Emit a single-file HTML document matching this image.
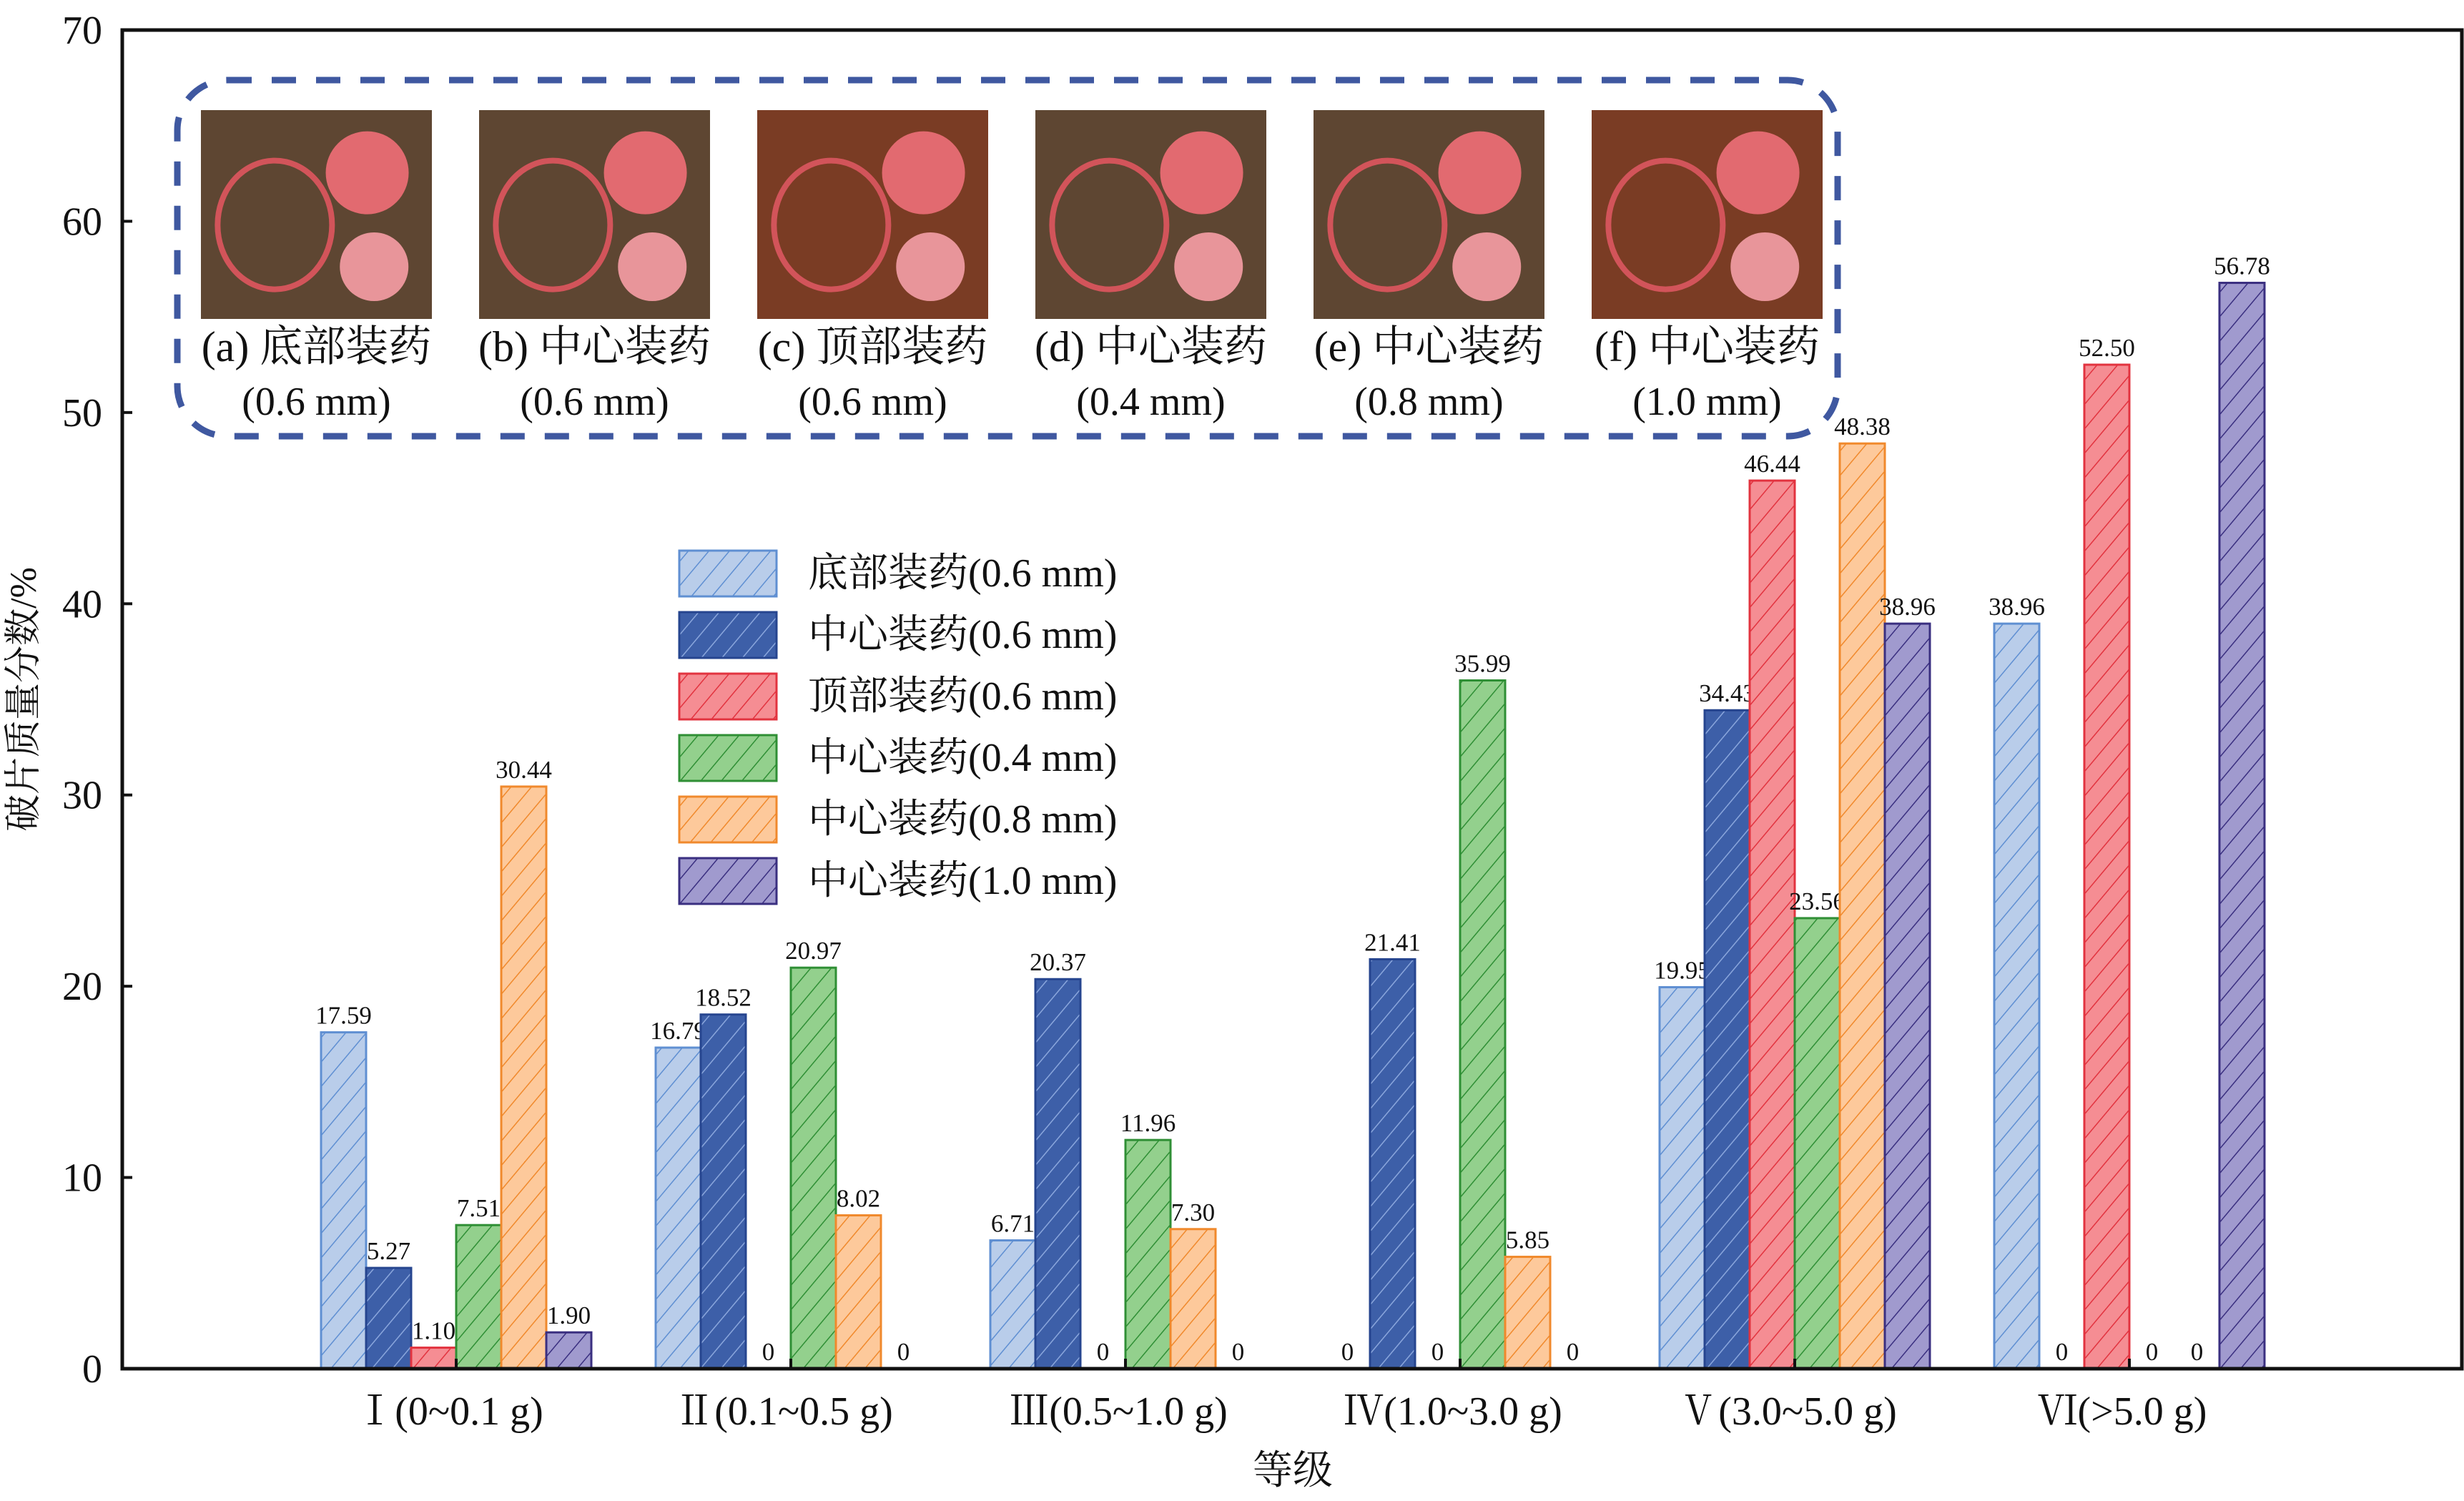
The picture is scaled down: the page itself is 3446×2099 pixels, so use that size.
<!DOCTYPE html>
<html><head><meta charset="utf-8"><style>
html,body{margin:0;padding:0;background:#fff;}
svg{display:block;font-family:"Liberation Serif","Noto Serif CJK SC",serif;}
</style></head><body>
<svg id="chart" width="3446" height="2099" viewBox="0 0 3446 2099" xmlns="http://www.w3.org/2000/svg">
<defs id="defs"></defs>
<g id="inset"></g>
<g id="bars"></g>
<g id="axes"></g>
<g id="legend"></g>
</svg>
<script>
const categories = ["Ⅰ(0~0.1 g)","Ⅱ(0.1~0.5 g)","Ⅲ(0.5~1.0 g)","Ⅳ(1.0~3.0 g)","Ⅴ(3.0~5.0 g)","Ⅵ(>5.0 g)"];
const seriesNames = ["底部装药(0.6 mm)","中心装药(0.6 mm)","顶部装药(0.6 mm)","中心装药(0.4 mm)","中心装药(0.8 mm)","中心装药(1.0 mm)"];
const s1 = [17.59,16.79,6.71,0,19.95,38.96];
const s2 = [5.27,18.52,20.37,21.41,34.43,0];
const s3 = [1.10,0,0,0,46.44,52.50];
const s4 = [7.51,20.97,11.96,35.99,23.56,0];
const s5 = [30.44,8.02,7.30,5.85,48.38,0];
const s6 = [1.90,0,0,0,38.96,56.78];
const yTicks = [0,10,20,30,40,50,60,70];
const photoCaptions = ["(a) 底部装药","(b) 中心装药","(c) 顶部装药","(d) 中心装药","(e) 中心装药","(f) 中心装药"];
const photoSizes = ["(0.6 mm)","(0.6 mm)","(0.6 mm)","(0.4 mm)","(0.8 mm)","(1.0 mm)"];

const series=[s1,s2,s3,s4,s5,s6];
const fills=["#b9cdea","#3d5fa8","#f58d93","#93d08d","#fdc99b","#a09ace"];
const strokes=["#5f8fd2","#26458f","#e2333f","#2f8f35","#f0892c","#3a2f80"];
const hatch=["#5f8fd2","#8aa6dc","#e2333f","#2f8f35","#f0892c","#3a2f80"];
const NS="http://www.w3.org/2000/svg";
const L=171,R=3443,T=42,B=1914;
function y(v){return B-(v/70)*(B-T);}
function gx(i){return 638+i*468;}
const bw=63;
function el(tag,attrs,parent){const e=document.createElementNS(NS,tag);for(const k in attrs)e.setAttribute(k,attrs[k]);parent.appendChild(e);return e;}
const defs=document.getElementById('defs');
series.forEach((s,k)=>{
  const p=el('pattern',{id:'h'+k,patternUnits:'userSpaceOnUse',width:22,height:22,patternTransform:'rotate(40)'},defs);
  el('rect',{x:0,y:0,width:22,height:22,fill:fills[k]},p);
  el('line',{x1:0,y1:0,x2:0,y2:22,stroke:hatch[k],'stroke-width':3},p);
});
const bars=document.getElementById('bars');
series.forEach((s,k)=>{
  s.forEach((v,i)=>{
    const x=gx(i)+(k-3)*bw;
    if(v>0){
      const r=el('rect',{x:x,y:y(v),width:bw,height:B-y(v),fill:'url(#h'+k+')',stroke:strokes[k],'stroke-width':3},bars);
      
      
    }
    const t=el('text',{x:x+bw/2,y:y(v)-12,'font-size':35,'text-anchor':'middle',fill:'#111'},bars);
    t.textContent=v===0?'0':v.toFixed(2);
    
    
  });
});
const ax=document.getElementById('axes');
el('rect',{x:L,y:T,width:R-L,height:B-T,fill:'none',stroke:'#111','stroke-width':5},ax);
yTicks.forEach(v=>{
  el('line',{x1:L,x2:L+14,y1:y(v),y2:y(v),stroke:'#111','stroke-width':4},ax);
  const t=el('text',{x:143,y:y(v)+19,'font-size':56,'text-anchor':'end',fill:'#111'},ax);
  t.textContent=v;
  
  
});
categories.forEach((c,i)=>{
  el('line',{x1:gx(i),x2:gx(i),y1:B,y2:B-14,stroke:'#111','stroke-width':4},ax);
  const t=el('text',{x:gx(i)-10,y:1992,'font-size':56,'text-anchor':'middle',fill:'#111'},ax);
  t.textContent=c;
  
  
});
let t=el('text',{x:1808,y:2075,'font-size':56,'text-anchor':'middle',fill:'#111'},ax);t.textContent='等级';


t=el('text',{x:0,y:0,'font-size':52,'text-anchor':'middle',fill:'#111',transform:'translate(50,978) rotate(-90)'},ax);t.textContent='破片质量分数/%';


const lg=document.getElementById('legend');
seriesNames.forEach((n,k)=>{
  const yy=770+k*86;
  const r=el('rect',{x:950,y:yy,width:136,height:64,fill:'url(#h'+k+')',stroke:strokes[k],'stroke-width':3},lg);
  
  
  const tt=el('text',{x:1130,y:yy+50,'font-size':56,fill:'#111'},lg);tt.textContent=n;
  
  
});
const ins=document.getElementById('inset');
el('rect',{x:248,y:112,width:2322,height:498,rx:70,fill:'none',stroke:'#3f58a0','stroke-width':9,'stroke-dasharray':'34 28'},ins);
photoCaptions.forEach((c,i)=>{
  const px=281+i*389, py=154, pw=323, ph=292;
  const g=el('g',{},ins);
  
  
  el('rect',{x:px,y:py,width:pw,height:ph,fill:i==2||i==5?'#7a3c24':'#5e4632'},g);
  el('circle',{cx:px+pw*0.72,cy:py+ph*0.3,r:58,fill:'#e26a70'},g);
  el('circle',{cx:px+pw*0.75,cy:py+ph*0.75,r:48,fill:'#e8959a'},g);
  el('ellipse',{cx:px+pw*0.32,cy:py+ph*0.55,rx:80,ry:90,fill:'none',stroke:'#d2545a','stroke-width':8},g);
  const a=el('text',{x:px+pw/2,y:505,'font-size':60,'text-anchor':'middle',fill:'#111'},ins);a.textContent=c;
  
  
  const b=el('text',{x:px+pw/2,y:580,'font-size':56,'text-anchor':'middle',fill:'#111'},ins);b.textContent=photoSizes[i];
  
  
});
</script>
</body></html>
